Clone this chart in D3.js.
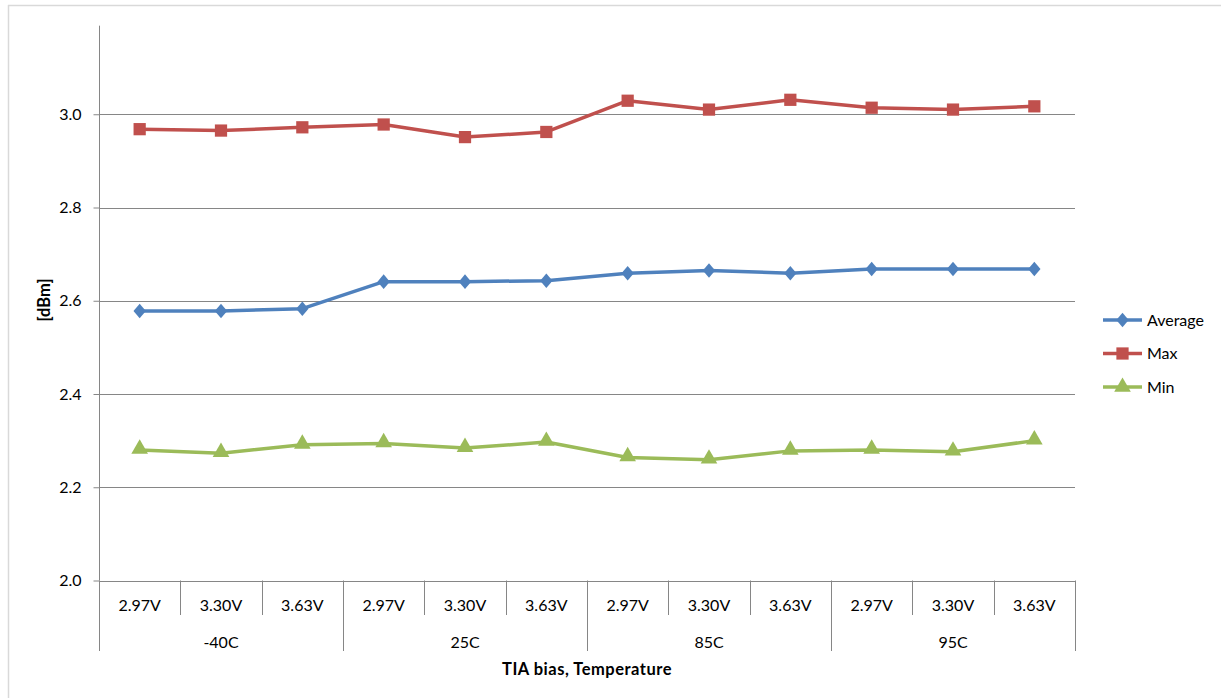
<!DOCTYPE html>
<html>
<head>
<meta charset="utf-8">
<script src="https://cdn.jsdelivr.net/npm/d3@7"></script>
<style>
  body { margin: 0; background: #fff; }
  svg text { font-family: Lato, "Open Sans", sans-serif; fill: #000; }
</style>
</head>
<body>
<div id="chart"></div>
<script>
// data
var temps = ["-40C", "25C", "85C", "95C"];
var biases = ["2.97V", "3.30V", "3.63V"];
var average = [2.578, 2.578, 2.583, 2.641, 2.641, 2.643, 2.659, 2.665, 2.659, 2.668, 2.668, 2.668];
var maxv = [2.968, 2.965, 2.972, 2.978, 2.951, 2.962, 3.029, 3.010, 3.031, 3.014, 3.010, 3.017];
var minv = [2.280, 2.273, 2.291, 2.294, 2.284, 2.297, 2.264, 2.259, 2.278, 2.280, 2.276, 2.300];
var yTicks = [2.0, 2.2, 2.4, 2.6, 2.8, 3.0];

var series = [
  {name: "Average", values: average, color: "#4F81BD", symbol: d3.symbolDiamond2, size: 135, sx: 0.85},
  {name: "Max", values: maxv, color: "#C0504D", symbol: d3.symbolSquare, size: 150, sx: 1},
  {name: "Min", values: minv, color: "#9BBB59", symbol: d3.symbolTriangle, size: 120, sx: 1}
];

var cats = [];
temps.forEach(function(t){
  biases.forEach(function(b){ cats.push(t + "|" + b); });
});

function drawChart(){
  var width = 1221, height = 698;
  var left = 99, right = 1075, plotTop = 21, bottom = 580.5;
  var fs = "16px";

  var svg = d3.select("#chart").append("svg")
    .attr("width", width).attr("height", height);

  // outer frame (top and left edges only visible)
  svg.append("line").attr("x1", 8).attr("x2", width).attr("y1", 5.5).attr("y2", 5.5)
    .attr("stroke", "#d9d9d9").attr("stroke-width", 1.5);
  svg.append("line").attr("x1", 8.5).attr("x2", 8.5).attr("y1", 5).attr("y2", height)
    .attr("stroke", "#d9d9d9").attr("stroke-width", 1.5);

  var xScale = d3.scaleBand().domain(cats).range([left, right]);
  var yScale = d3.scaleLinear().domain([2.0, 3.2]).range([bottom, plotTop]);

  // gridlines
  svg.append("g").selectAll("line")
    .data(yTicks.filter(function(d){ return d > 2.0; }))
    .enter().append("line")
      .attr("x1", left).attr("x2", right)
      .attr("y1", function(d){ return Math.round(yScale(d)) + 0.5; })
      .attr("y2", function(d){ return Math.round(yScale(d)) + 0.5; })
      .attr("stroke", "#868686").attr("stroke-width", 1);

  // y axis
  var yAxis = d3.axisLeft(yScale).tickValues(yTicks).tickSize(6).tickPadding(12)
    .tickFormat(d3.format(".1f"));
  var gy = svg.append("g").attr("transform", "translate(" + (left + 0.5) + ",0)").call(yAxis);
  gy.select(".domain").remove();
  gy.selectAll(".tick line").attr("stroke", "#868686");
  gy.selectAll(".tick text").style("font-size", fs).style("font-family", "Lato, sans-serif");
  svg.append("line").attr("x1", left + 0.5).attr("x2", left + 0.5)
    .attr("y1", yScale(3.19)).attr("y2", bottom)
    .attr("stroke", "#868686");

  // x axis: base line, category ticks, group separators
  svg.append("line").attr("x1", left).attr("x2", right)
    .attr("y1", Math.round(bottom) + 0.5).attr("y2", Math.round(bottom) + 0.5)
    .attr("stroke", "#868686");

  var gx = svg.append("g");
  cats.forEach(function(c, i){
    var x0 = Math.round(xScale(c)) + 0.5;
    var groupStart = i % biases.length == 0;
    gx.append("line").attr("x1", x0).attr("x2", x0)
      .attr("y1", bottom).attr("y2", groupStart ? 651 : 615)
      .attr("stroke", "#868686");
    gx.append("text")
      .attr("x", xScale(c) + xScale.bandwidth() / 2).attr("y", 611)
      .attr("text-anchor", "middle").style("font-size", fs)
      .text(c.split("|")[1]);
  });
  gx.append("line").attr("x1", right + 0.5).attr("x2", right + 0.5)
    .attr("y1", bottom).attr("y2", 651).attr("stroke", "#868686");

  temps.forEach(function(t){
    var a = xScale(t + "|" + biases[0]);
    var b = xScale(t + "|" + biases[biases.length - 1]) + xScale.bandwidth();
    gx.append("text").attr("x", (a + b) / 2).attr("y", 648)
      .attr("text-anchor", "middle").style("font-size", fs).text(t);
  });

  // axis titles
  svg.append("text").attr("x", 587).attr("y", 675).attr("text-anchor", "middle")
    .style("font-size", "16.5px").style("font-weight", "bold").style("letter-spacing", "0.5px")
    .text("TIA bias, Temperature");
  svg.append("text").attr("transform", "translate(50,300) rotate(-90)")
    .attr("text-anchor", "middle").style("font-size", "16.5px").style("font-weight", "bold")
    .text("[dBm]");

  // series
  var line = d3.line()
    .x(function(d, i){ return xScale(cats[i]) + xScale.bandwidth() / 2; })
    .y(function(d){ return yScale(d); });

  series.forEach(function(s){
    svg.append("path").datum(s.values)
      .attr("d", line).attr("fill", "none")
      .attr("stroke", s.color).attr("stroke-width", 3.5).attr("stroke-linejoin", "round");
    svg.append("g").selectAll("path")
      .data(s.values).enter().append("path")
        .attr("d", d3.symbol().type(s.symbol).size(s.size))
        .attr("transform", function(d, i){
          var dy = s.symbol === d3.symbolTriangle ? -1 : 0;
          return "translate(" + (xScale(cats[i]) + xScale.bandwidth() / 2) + "," + (yScale(d) + dy) + ") scale(" + s.sx + ",1)";
        })
        .attr("fill", s.color);
  });

  // legend
  var legend = svg.append("g");
  series.forEach(function(s, i){
    var ly = 320 + i * 33.5;
    legend.append("line").attr("x1", 1103).attr("x2", 1142).attr("y1", ly).attr("y2", ly)
      .attr("stroke", s.color).attr("stroke-width", 3.5);
    legend.append("path").attr("d", d3.symbol().type(s.symbol).size(s.size))
      .attr("transform", "translate(1122.5," + ly + ") scale(" + s.sx + ",1)").attr("fill", s.color);
    legend.append("text").attr("x", 1147).attr("y", ly + 5.5).style("font-size", fs).text(s.name);
  });
}

drawChart();
</script>
</body>
</html>
